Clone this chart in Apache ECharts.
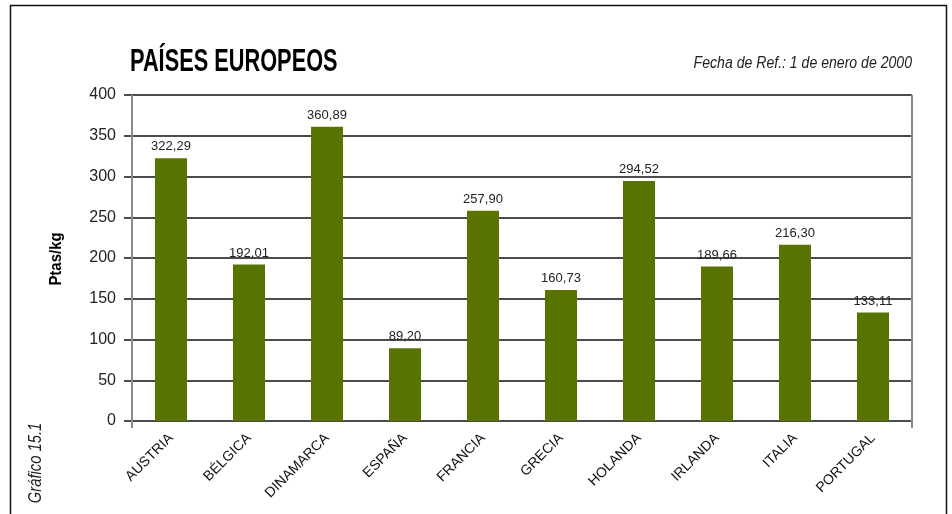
<!DOCTYPE html>
<html>
<head>
<meta charset="utf-8">
<script src="https://cdn.jsdelivr.net/npm/echarts@6/dist/echarts.min.js"></script>
<style>
  html, body { margin: 0; padding: 0; background: #fff; }
  #chart { width: 952px; height: 514px; }
</style>
</head>
<body>
<div id="chart"></div>
<script>
// Precio medio por país (Ptas/kg)
const countries = ['AUSTRIA', 'BÉLGICA', 'DINAMARCA', 'ESPAÑA', 'FRANCIA', 'GRECIA', 'HOLANDA', 'IRLANDA', 'ITALIA', 'PORTUGAL'];
const prices = [322.29, 192.01, 360.89, 89.20, 257.90, 160.73, 294.52, 189.66, 216.30, 133.11];
const yTicks = [0, 50, 100, 150, 200, 250, 300, 350, 400];

const FONT = '"Liberation Sans", Arial, sans-serif';
const BAR = '#597300';

const chart = echarts.init(document.getElementById('chart'), null, { renderer: 'canvas' });

const fmt = v => v.toFixed(2).replace('.', ',');

chart.setOption({
  animation: false,
  backgroundColor: '#fff',
  textStyle: { fontFamily: FONT },
  grid: { left: 132, right: 40, top: 95, bottom: 93, containLabel: false },
  xAxis: {
    type: 'category',
    data: countries,
    axisLine: { show: false },
    axisTick: { show: false },
    axisLabel: {
      rotate: 45, margin: 15, interval: 0,
      fontFamily: FONT, fontSize: 14, color: '#111'
    },
    splitLine: { show: false }
  },
  yAxis: {
    type: 'value',
    min: yTicks[0], max: yTicks[yTicks.length - 1], interval: 50,
    axisLine: { show: false },
    axisTick: { show: true, length: 8, lineStyle: { color: '#111', width: 1.5 } },
    axisLabel: { fontFamily: FONT, fontSize: 16, color: '#222', margin: 16 },
    splitLine: { show: true, lineStyle: { color: '#111', width: 1.5 } }
  },
  series: [{
    type: 'bar',
    data: prices,
    barWidth: 32,
    itemStyle: { color: BAR },
    label: {
      show: true, position: 'top', distance: 5,
      formatter: p => fmt(p.value),
      fontFamily: FONT, fontSize: 13, color: '#222'
    }
  }]
});

// Headings, axis name, side caption, gray side lines and outer frame
function decorate() {
  const top = chart.convertToPixel({ yAxisIndex: 0 }, yTicks[yTicks.length - 1]);
  const zero = chart.convertToPixel({ yAxisIndex: 0 }, 0);
  const grid = chart.getModel().getComponent('grid').coordinateSystem.getRect();
  const left = grid.x, right = grid.x + grid.width;
  chart.setOption({
    graphic: [
      { type: 'line', z: 10, shape: { x1: left, y1: top, x2: left, y2: zero + 7 },
        style: { stroke: '#8a8a8a', lineWidth: 2 } },
      { type: 'line', z: 10, shape: { x1: right, y1: top, x2: right, y2: zero + 7 },
        style: { stroke: '#8a8a8a', lineWidth: 2 } },
      { type: 'polyline', z: 10, shape: { points: [[10.5, 520], [10.5, 5.5], [946.5, 5.5], [946.5, 520]] },
        style: { stroke: '#111', lineWidth: 1.5, fill: null } },
      // main heading (narrowed)
      { type: 'text', z: 10, x: 130, y: 62, scaleX: 0.68,
        style: { text: 'PAÍSES EUROPEOS', font: 'bold 32px ' + FONT, fill: '#000',
                 textAlign: 'left', textVerticalAlign: 'middle' } },
      // reference date
      { type: 'text', z: 10, x: 912, y: 64, scaleX: 0.88,
        style: { text: 'Fecha de Ref.: 1 de enero de 2000', font: 'italic 16px ' + FONT, fill: '#222',
                 textAlign: 'right', textVerticalAlign: 'middle' } },
      // value axis name
      { type: 'text', z: 10, x: 56, y: 259, rotation: Math.PI / 2, scaleX: 0.88,
        style: { text: 'Ptas/kg', font: 'bold 17px ' + FONT, fill: '#000',
                 textAlign: 'center', textVerticalAlign: 'middle' } },
      // figure number
      { type: 'text', z: 10, x: 36, y: 463, rotation: Math.PI / 2, scaleX: 0.82,
        style: { text: 'Gráfico 15.1', font: 'italic 18px ' + FONT, fill: '#222',
                 textAlign: 'center', textVerticalAlign: 'middle' } }
    ]
  });
}
decorate();
</script>
</body>
</html>
